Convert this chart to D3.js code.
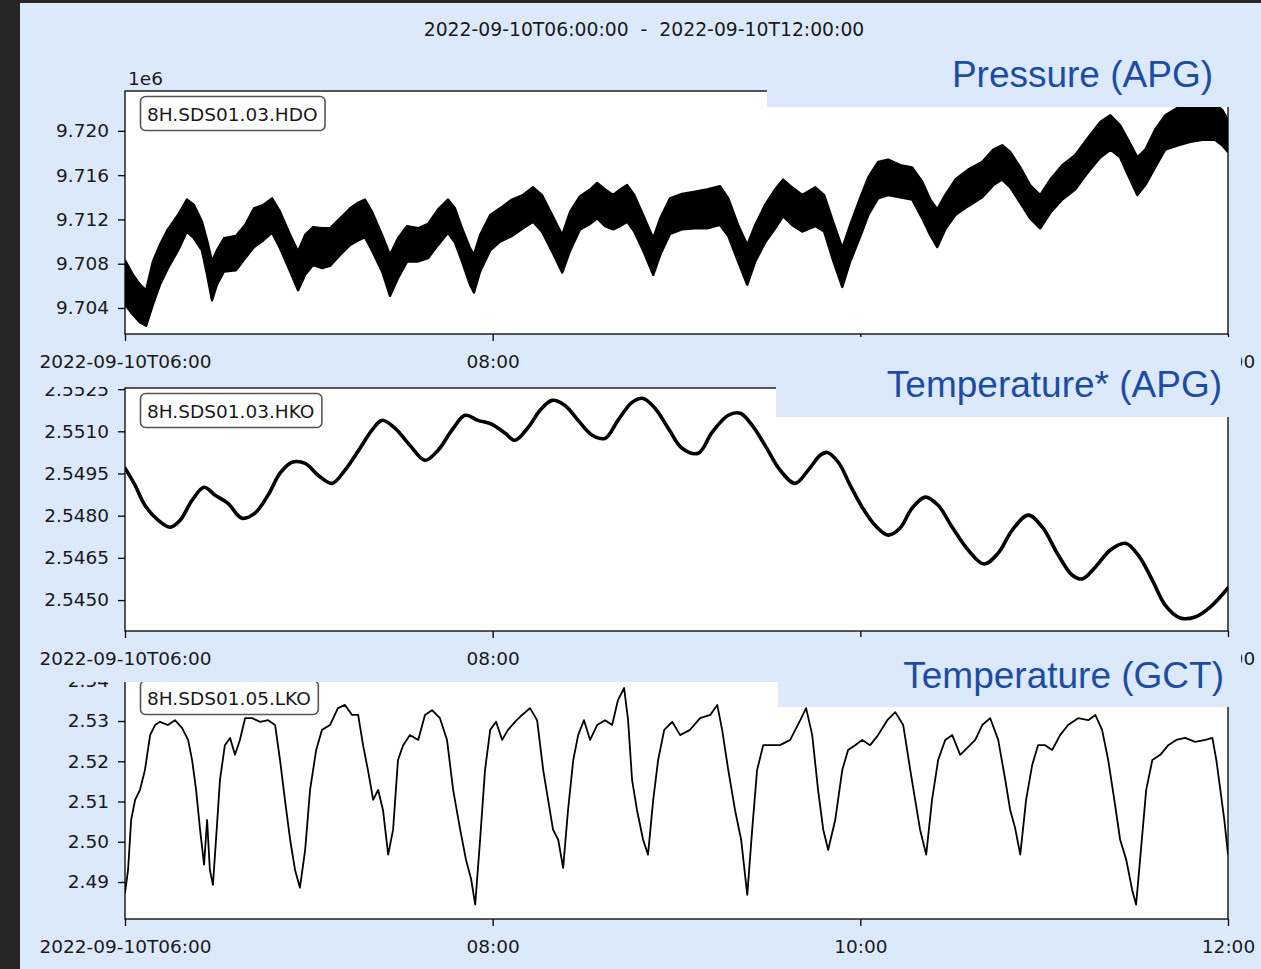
<!DOCTYPE html>
<html>
<head>
<meta charset="utf-8">
<script src="https://cdn.jsdelivr.net/npm/d3@7"></script>
<style>
  html, body { margin: 0; padding: 0; background: #dce9fb; }
  svg { display: block; }
</style>
</head>
<body>
<svg id="fig" width="1261" height="969"></svg>
<script>
// ---- Sensor traces, 2022-09-10 06:00–12:00 UTC (time in minutes after 06:00) ----

// 8H.SDS01.03.HDO — APG pressure, min/max envelope of the high-rate trace (units of 1e6)
const pressureMinutes = [0,2.6,4.9,6.9,9.1,11.4,14.0,17.3,20.2,22.5,25.1,26.8,28.4,30.0,32.3,36.2,39.2,42.1,45.1,48.0,
  50.6,53.9,56.5,58.8,61.4,64.3,66.9,70.2,73.5,76.1,78.3,80.6,83.9,86.5,89.1,92.1,95.7,98.9,102.2,105.4,
  107.7,110.0,112.6,113.9,115.9,119.2,122.4,126.3,129.9,133.2,136.1,139.4,142.7,145.3,148.5,151.8,154.1,156.7,159.3,161.6,
  163.9,166.2,169.1,172.4,174.7,177.9,181.8,186.1,190.0,194.2,196.9,200.1,203.1,205.7,208.9,212.2,214.8,217.7,221.0,225.3,
  228.2,231.1,234.1,236.7,239.9,242.6,245.8,249.1,253.0,256.9,260.2,262.8,265.1,267.7,271.0,275.2,279.8,283.4,286.3,288.9,
  292.2,295.4,298.7,302.0,305.9,310.1,314.4,318.3,321.6,324.8,327.4,330.4,333.0,336.2,339.5,343.7,347.7,351.6,355.8,358.1,360.0];
const pressureHigh = [9.7083,9.7070,9.7061,9.7056,9.7082,9.7097,9.7111,9.7124,9.7138,9.7133,
  9.7118,9.7101,9.7082,9.7092,9.7103,9.7105,9.7115,9.7130,9.7133,9.7139,
  9.7127,9.7106,9.7091,9.7106,9.7113,9.7112,9.7112,9.7121,9.7130,9.7135,
  9.7138,9.7127,9.7106,9.7088,9.7103,9.7114,9.7112,9.7116,9.7129,9.7138,
  9.7130,9.7112,9.7094,9.7088,9.7106,9.7124,9.7130,9.7138,9.7142,9.7149,
  9.7142,9.7124,9.7106,9.7127,9.7141,9.7147,9.7153,9.7147,9.7142,9.7147,
  9.7151,9.7142,9.7124,9.7103,9.7121,9.7139,9.7143,9.7145,9.7147,9.7150,
  9.7139,9.7115,9.7097,9.7115,9.7133,9.7147,9.7156,9.7149,9.7142,9.7149,
  9.7142,9.7118,9.7094,9.7115,9.7139,9.7158,9.7172,9.7174,9.7169,9.7167,
  9.7154,9.7138,9.7129,9.7142,9.7156,9.7165,9.7172,9.7183,9.7187,9.7181,
  9.7167,9.7151,9.7142,9.7156,9.7169,9.7178,9.7194,9.7208,9.7214,9.7205,
  9.7192,9.7176,9.7183,9.7201,9.7214,9.7221,9.7224,9.7224,9.7224,9.7219,9.7210];
const pressureLow = [9.7043,9.7034,9.7027,9.7024,9.7043,9.7061,9.7076,9.7092,9.7109,9.7103,
  9.7092,9.7070,9.7047,9.7061,9.7073,9.7074,9.7085,9.7095,9.7101,9.7108,
  9.7094,9.7073,9.7056,9.7070,9.7079,9.7076,9.7078,9.7088,9.7097,9.7101,
  9.7104,9.7092,9.7073,9.7051,9.7067,9.7082,9.7082,9.7085,9.7097,9.7108,
  9.7099,9.7082,9.7061,9.7054,9.7073,9.7092,9.7100,9.7105,9.7112,9.7118,
  9.7109,9.7091,9.7072,9.7092,9.7111,9.7116,9.7121,9.7114,9.7111,9.7114,
  9.7118,9.7109,9.7092,9.7070,9.7088,9.7107,9.7111,9.7112,9.7112,9.7115,
  9.7105,9.7082,9.7061,9.7082,9.7099,9.7112,9.7123,9.7115,9.7109,9.7114,
  9.7109,9.7083,9.7059,9.7082,9.7104,9.7124,9.7139,9.7142,9.7140,9.7138,
  9.7121,9.7106,9.7095,9.7111,9.7124,9.7132,9.7140,9.7151,9.7156,9.7149,
  9.7135,9.7121,9.7112,9.7126,9.7138,9.7147,9.7163,9.7176,9.7183,9.7176,
  9.7160,9.7142,9.7151,9.7167,9.7183,9.7187,9.7190,9.7192,9.7192,9.7187,9.7181];

// 8H.SDS01.03.HKO — APG internal temperature
const apgMinutes = [0,3.3,6.5,10.8,14.7,18.0,21.9,25.8,29.4,33.6,
  38.2,42.4,46.7,50.6,54.5,58.8,63.0,67.6,71.8,76.7,
  80.6,83.9,88.1,93.0,97.9,102.2,106.7,111.0,115.2,119.8,
  124.1,127.3,131.6,135.5,139.4,143.6,147.9,152.5,156.7,160.9,
  165.5,169.1,173.0,177.3,181.8,187.1,191.6,196.9,200.8,204.7,
  208.9,213.8,218.7,223.0,226.9,229.2,232.8,236.7,240.6,244.8,
  249.1,253.0,256.9,261.2,265.4,270.0,275.2,280.4,285.0,289.6,
  294.8,299.4,304.6,309.1,312.4,316.7,321.6,326.5,330.7,335.3,
  339.5,344.4,349.3,354.2,360];
const apgTemp = [2.54969,2.54908,2.54837,2.54784,2.54759,2.54784,2.54855,2.54901,2.54873,2.54844,
  2.54791,2.54809,2.54873,2.54951,2.54990,2.54986,2.54944,2.54915,2.54962,2.55040,
  2.55104,2.55139,2.55111,2.55050,2.54997,2.55033,2.55104,2.55157,2.55139,2.55125,
  2.55093,2.55068,2.55114,2.55175,2.55210,2.55192,2.55139,2.55086,2.55075,2.55139,
  2.55203,2.55217,2.55182,2.55111,2.55040,2.55022,2.55096,2.55157,2.55164,2.55121,
  2.55050,2.54962,2.54915,2.54962,2.55015,2.55025,2.54990,2.54908,2.54830,2.54766,
  2.54731,2.54756,2.54827,2.54866,2.54837,2.54759,2.54678,2.54628,2.54667,2.54749,
  2.54802,2.54759,2.54660,2.54589,2.54575,2.54617,2.54678,2.54702,2.54660,2.54571,
  2.54482,2.54436,2.54440,2.54475,2.54543];

// 8H.SDS01.05.LKO — GCT temperature
const gctMinutes = [0,1.0,2.0,3.3,4.9,6.5,8.2,9.8,11.4,14.0,
  16.3,18.6,20.6,21.9,23.2,24.5,25.8,26.8,27.7,28.7,
  29.7,31.0,32.6,34.3,35.9,37.5,39.2,41.5,44.1,46.7,
  49.0,50.6,52.2,53.9,55.5,57.1,58.8,60.4,62.4,64.3,
  66.9,69.5,71.8,74.1,76.1,77.7,79.3,81.0,82.6,84.2,
  85.9,87.5,89.1,90.8,93.0,95.7,97.9,100.2,102.8,105.1,
  107.1,109.4,111.3,113.0,114.3,115.9,117.5,119.2,121.1,123.1,
  125.0,127.3,129.6,132.2,134.5,136.5,138.1,139.7,141.4,143.0,
  144.6,146.3,147.9,149.8,151.8,154.1,156.7,159.0,160.9,162.9,
  164.2,165.5,167.1,169.1,170.7,172.4,174.0,176.0,178.6,181.2,
  184.4,187.7,191.0,193.3,194.9,196.9,199.1,201.1,203.1,204.7,
  206.3,208.3,210.6,213.8,217.1,220.4,222.3,224.3,226.2,227.9,
  229.5,231.8,234.1,236.0,238.3,240.6,243.2,245.8,248.8,251.4,
  254.0,256.3,257.9,259.5,261.5,263.4,265.4,267.7,270.0,272.6,
  274.9,277.5,279.8,282.4,285.0,287.3,288.9,290.5,292.2,294.1,
  296.1,298.0,300.3,302.6,305.2,307.8,311.1,314.4,316.7,318.9,
  320.9,322.9,324.8,326.8,328.7,330.0,331.3,333.3,335.3,337.9,
  340.5,343.1,346.0,349.3,352.6,354.9,356.2,357.5,358.8,360.0];
const gctTemp = [2.4873,2.4930,2.5054,2.5104,2.5129,2.5178,2.5265,2.5290,2.5298,2.5290,
  2.5302,2.5283,2.5253,2.5203,2.5129,2.5030,2.4943,2.5054,2.4930,2.4893,
  2.5005,2.5154,2.5240,2.5258,2.5216,2.5253,2.5307,2.5307,2.5298,2.5302,
  2.5290,2.5203,2.5104,2.5005,2.4930,2.4886,2.4980,2.5129,2.5228,2.5278,
  2.5290,2.5332,2.5340,2.5315,2.5315,2.5240,2.5178,2.5104,2.5129,2.5079,
  2.4968,2.5030,2.5203,2.5240,2.5265,2.5253,2.5315,2.5327,2.5307,2.5253,
  2.5129,2.5030,2.4955,2.4906,2.4844,2.5005,2.5178,2.5278,2.5298,2.5253,
  2.5278,2.5298,2.5315,2.5332,2.5302,2.5178,2.5104,2.5030,2.5005,2.4935,
  2.5079,2.5203,2.5265,2.5302,2.5253,2.5290,2.5302,2.5290,2.5352,2.5382,
  2.5302,2.5154,2.5079,2.5005,2.4968,2.5104,2.5203,2.5278,2.5298,2.5265,
  2.5278,2.5307,2.5315,2.5340,2.5278,2.5178,2.5079,2.5005,2.4868,2.5030,
  2.5178,2.5240,2.5240,2.5240,2.5253,2.5302,2.5332,2.5265,2.5129,2.5030,
  2.4980,2.5054,2.5178,2.5228,2.5240,2.5253,2.5240,2.5265,2.5302,2.5322,
  2.5290,2.5178,2.5104,2.5030,2.4968,2.5104,2.5203,2.5253,2.5265,2.5216,
  2.5233,2.5253,2.5290,2.5307,2.5253,2.5154,2.5079,2.5035,2.4968,2.5104,
  2.5191,2.5240,2.5240,2.5228,2.5265,2.5290,2.5307,2.5302,2.5315,2.5278,
  2.5203,2.5104,2.5005,2.4955,2.4881,2.4844,2.4955,2.5129,2.5203,2.5216,
  2.5240,2.5253,2.5258,2.5248,2.5253,2.5258,2.5203,2.5129,2.5054,2.4968];

// Tick values and labels
const pressureTicks = [9.704, 9.708, 9.712, 9.716, 9.720];
const apgTicks = [2.5450, 2.5465, 2.5480, 2.5495, 2.5510, 2.5525];
const gctTicks = [2.49, 2.50, 2.51, 2.52, 2.53, 2.54];
const timeTickHours = [6, 8, 10, 12];
const traceIds = ["8H.SDS01.03.HDO", "8H.SDS01.03.HKO", "8H.SDS01.05.LKO"];
const channelTitles = ["Pressure (APG)", "Temperature* (APG)", "Temperature (GCT)"];
const windowTitle = "2022-09-10T06:00:00  -  2022-09-10T12:00:00";

// ---- Drawing ----
const W = 1261, H = 969;
const BG = "#dce9fb";
const FONT = "'DejaVu Sans', sans-serif";
const FS = 18.5;
const svg = d3.select("#fig");
const defs = svg.append("defs");

svg.append("rect").attr("width", W).attr("height", H).attr("fill", BG);

const X0 = 125, X1 = 1228;
const t0 = new Date(Date.UTC(2022, 8, 10, 6));
const t1 = new Date(Date.UTC(2022, 8, 10, 12));
const x = d3.scaleUtc().domain([t0, t1]).range([X0, X1]);
const atMin = m => new Date(t0.getTime() + m * 60000);
const xTickDates = timeTickHours.map(h => new Date(Date.UTC(2022, 8, 10, h)));
const fmtFirst = d3.utcFormat("%Y-%m-%dT%H:%M");
const fmtHM = d3.utcFormat("%H:%M");

svg.append("text")
  .attr("x", 644).attr("y", 36)
  .attr("text-anchor", "middle")
  .attr("font-family", FONT).attr("font-size", 18.8)
  .attr("fill", "#1a1a1a")
  .style("white-space", "pre")
  .text(windowTitle);

function drawPanel(i, cfg) {
  const g = svg.append("g");
  if (cfg.clipTop !== undefined) {
    const id = "cut" + i;
    defs.append("clipPath").attr("id", id)
      .append("rect").attr("x", 0).attr("y", cfg.clipTop).attr("width", W).attr("height", H - cfg.clipTop);
    g.attr("clip-path", `url(#${id})`);
  }
  const y = d3.scaleLinear().domain(cfg.domain).range([cfg.bottom, cfg.top]);

  g.append("rect").attr("x", X0).attr("y", cfg.top)
    .attr("width", X1 - X0).attr("height", cfg.bottom - cfg.top).attr("fill", "#fff");

  const pid = "plot" + i;
  defs.append("clipPath").attr("id", pid)
    .append("rect").attr("x", X0).attr("y", cfg.top).attr("width", X1 - X0).attr("height", cfg.bottom - cfg.top);
  const dg = g.append("g").attr("clip-path", `url(#${pid})`);
  cfg.draw(dg, y);

  // label box with trace id
  const lb = g.append("g");
  const lt = lb.append("text")
    .attr("x", X0 + 22).attr("y", cfg.top + 29.5)
    .attr("font-family", FONT).attr("font-size", FS).attr("fill", "#1a1a1a")
    .text(traceIds[i]);
  const tw = lt.node().getComputedTextLength();
  lb.insert("rect", "text")
    .attr("x", X0 + 15.5).attr("y", cfg.top + 5.5)
    .attr("width", tw + 14).attr("height", 34).attr("rx", 5)
    .attr("fill", "#fff").attr("stroke", "#555").attr("stroke-width", 1.6);

  // frame
  g.append("rect").attr("x", X0).attr("y", cfg.top)
    .attr("width", X1 - X0).attr("height", cfg.bottom - cfg.top)
    .attr("fill", "none").attr("stroke", "#000").attr("stroke-width", 1.3);

  // y axis
  const ya = g.append("g").attr("transform", `translate(${X0},0)`)
    .call(d3.axisLeft(y).tickValues(cfg.ticks).tickFormat(cfg.fmt)
      .tickSize(7).tickPadding(9).tickSizeOuter(0));
  ya.select(".domain").remove();
  ya.attr("font-family", FONT).attr("font-size", FS);
  ya.selectAll(".tick line").attr("stroke", "#000").attr("stroke-width", 1.3);
  ya.selectAll(".tick text").attr("fill", "#1a1a1a");

  // x axis
  const xa = g.append("g").attr("transform", `translate(0,${cfg.bottom})`)
    .call(d3.axisBottom(x).tickValues(xTickDates)
      .tickFormat((d, k) => k === 0 ? fmtFirst(d) : fmtHM(d))
      .tickSize(7).tickSizeOuter(0));
  xa.select(".domain").remove();
  xa.attr("font-family", FONT).attr("font-size", FS);
  xa.selectAll(".tick line").attr("stroke", "#000").attr("stroke-width", 1.3);
  xa.selectAll(".tick text").attr("fill", "#1a1a1a").attr("y", 34).attr("dy", null);

  if (cfg.offsetText) {
    g.append("text").attr("x", X0 + 3).attr("y", cfg.top - 6)
      .attr("font-family", FONT).attr("font-size", FS).attr("fill", "#1a1a1a")
      .text(cfg.offsetText);
  }
}

// Pressure: filled min/max envelope
drawPanel(0, {
  top: 91, bottom: 334, domain: [9.70165, 9.7236],
  ticks: pressureTicks, fmt: d3.format(".3f"), offsetText: "1e6",
  draw: (g, y) => {
    const rows = pressureMinutes.map((m, k) => ({ t: atMin(m), hi: pressureHigh[k], lo: pressureLow[k] }));
    g.append("path").datum(rows)
      .attr("d", d3.area().x(d => x(d.t)).y0(d => y(d.lo)).y1(d => y(d.hi)))
      .attr("fill", "#000").attr("stroke", "#000").attr("stroke-width", 2.4)
      .attr("stroke-linejoin", "round");
  }
});

// APG temperature: smooth thick line
drawPanel(1, {
  top: 388, bottom: 631, clipTop: 387, domain: [2.5439, 2.55254],
  ticks: apgTicks, fmt: d3.format(".4f"),
  draw: (g, y) => {
    const rows = apgMinutes.map((m, k) => ({ t: atMin(m), v: apgTemp[k] }));
    g.append("path").datum(rows)
      .attr("d", d3.line().curve(d3.curveCatmullRom).x(d => x(d.t)).y(d => y(d.v)))
      .attr("fill", "none").attr("stroke", "#000").attr("stroke-width", 3.6)
      .attr("stroke-linejoin", "round").attr("stroke-linecap", "round");
  }
});

// GCT temperature: thin line
drawPanel(2, {
  top: 675, bottom: 919, clipTop: 682, domain: [2.48081, 2.54143],
  ticks: gctTicks, fmt: d3.format(".2f"),
  draw: (g, y) => {
    const rows = gctMinutes.map((m, k) => ({ t: atMin(m), v: gctTemp[k] }));
    g.append("path").datum(rows)
      .attr("d", d3.line().x(d => x(d.t)).y(d => y(d.v)))
      .attr("fill", "none").attr("stroke", "#000").attr("stroke-width", 1.8)
      .attr("stroke-linejoin", "round");
  }
});

// Channel title banners on the right
const banners = [
  { x: 767, y: 45, w: 494, h: 62, tx: 1213, ty: 87 },
  { x: 776, y: 337, w: 465, h: 80, tx: 1222, ty: 397 },
  { x: 778, y: 637, w: 463, h: 70, tx: 1224, ty: 688 }
];
banners.forEach((b, i) => {
  svg.append("rect").attr("x", b.x).attr("y", b.y).attr("width", b.w).attr("height", b.h).attr("fill", BG);
  svg.append("text").attr("x", b.tx).attr("y", b.ty)
    .attr("text-anchor", "end")
    .attr("font-family", "'Liberation Sans', Arial, sans-serif").attr("font-size", 37)
    .attr("fill", "#1c4ca3")
    .text(channelTitles[i]);
});

// Window chrome edges
svg.append("rect").attr("x", 0).attr("y", 0).attr("width", 20).attr("height", H).attr("fill", "#262626");
svg.append("rect").attr("x", 0).attr("y", 0).attr("width", W).attr("height", 3).attr("fill", "#262626");
</script>
</body>
</html>
